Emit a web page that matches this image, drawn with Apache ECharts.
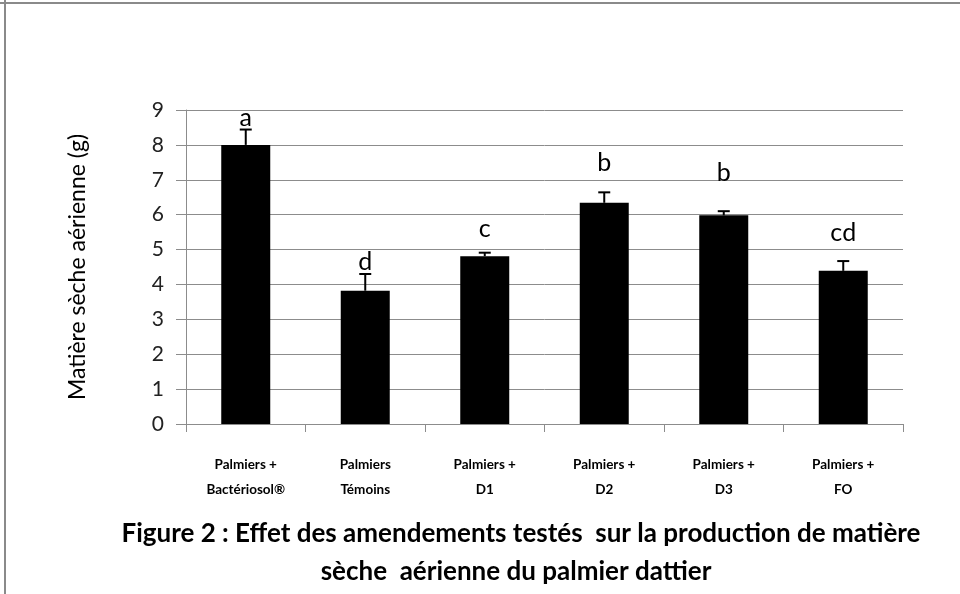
<!DOCTYPE html>
<html><head><meta charset="utf-8">
<script src="https://cdn.jsdelivr.net/npm/echarts@6/dist/echarts.min.js"></script>
<style>html,body{margin:0;padding:0;background:#fff}#c{width:960px;height:594px}</style>
</head><body><div id="c"></div>
<script>
const categories = ['Palmiers +\nBactériosol®','Palmiers\nTémoins','Palmiers +\nD1','Palmiers +\nD2','Palmiers +\nD3','Palmiers +\nFO'];
const values = [8.0, 3.82, 4.81, 6.34, 5.98, 4.39];
const errors = [0.44, 0.48, 0.10, 0.30, 0.12, 0.28];
const letters = ['a','d','c','b','b','cd'];
const letterY = [8.57, 4.44, 5.37, 7.28, 6.97, 5.25];
const yTicks = [0,1,2,3,4,5,6,7,8,9];
const captionLines = ['Figure 2 : Effet des amendements testés  sur la production de matière','sèche  aérienne du palmier dattier'];

const FONT = 'Lato';
const chart = echarts.init(document.getElementById('c'));
chart.setOption({
  backgroundColor:'#fff',
  animation:false,
  grid:{left:186,right:57,top:110,bottom:170},
  xAxis:{type:'category',data:categories,boundaryGap:true,
    axisLine:{lineStyle:{color:'#8c8c8c',width:1}},
    axisTick:{show:true,length:8,lineStyle:{color:'#8c8c8c'}},
    axisLabel:{fontFamily:FONT,fontWeight:'bold',fontSize:13.5,color:'#000',lineHeight:25,margin:28,interval:0}},
  yAxis:{type:'value',min:yTicks[0],max:yTicks[yTicks.length-1],interval:1,
    name:'Matière sèche aérienne (g)',nameLocation:'middle',nameGap:97,
    nameTextStyle:{fontFamily:FONT,fontSize:23,color:'#000'},
    axisLine:{show:true,lineStyle:{color:'#8c8c8c'}},
    axisTick:{show:true,length:10,lineStyle:{color:'#8c8c8c'}},
    axisLabel:{fontFamily:FONT,fontSize:21,color:'#222',margin:22},
    splitLine:{lineStyle:{color:'#8c8c8c',width:1}}},
  series:[
    {type:'bar',data:values,barWidth:'41%',itemStyle:{color:'#000'}},
    {type:'custom',data:values.map((v,i)=>[i,v,errors[i]]),z:5,
      renderItem:function(params,api){
        const i=api.value(0),v=api.value(1),e=api.value(2);
        const p0=api.coord([i,v]),p1=api.coord([i,v+e]);
        const st={stroke:'#000',lineWidth:2};
        return {type:'group',children:[
          {type:'line',shape:{x1:p0[0],y1:p0[1],x2:p1[0],y2:p1[1]},style:st},
          {type:'line',shape:{x1:p1[0]-6,y1:p1[1],x2:p1[0]+6,y2:p1[1]},style:st}
        ]};
      }},
    {type:'custom',data:letterY.map((v,i)=>[i,v]),z:6,
      renderItem:function(params,api){
        const i=api.value(0),v=api.value(1);
        const p=api.coord([i,v]);
        return {type:'text',x:p[0],y:p[1]+5,style:{text:letters[params.dataIndex],fontFamily:FONT,fontSize:25,fill:'#000',align:'center',verticalAlign:'bottom'}};
      }}
  ],
  graphic:[
    {type:'line',shape:{x1:0,y1:3,x2:960,y2:3},style:{stroke:'#8a8a8a',lineWidth:2}},
    {type:'line',shape:{x1:5,y1:0,x2:5,y2:594},style:{stroke:'#8a8a8a',lineWidth:2}},
    {type:'text',x:521,y:534,style:{text:captionLines[0],fontFamily:FONT,fontWeight:'bold',fontSize:26,fill:'#000',align:'center',verticalAlign:'middle'}},
    {type:'text',x:516,y:572,style:{text:captionLines[1],fontFamily:FONT,fontWeight:'bold',fontSize:26,fill:'#000',align:'center',verticalAlign:'middle'}}
  ]
});
</script></body></html>
